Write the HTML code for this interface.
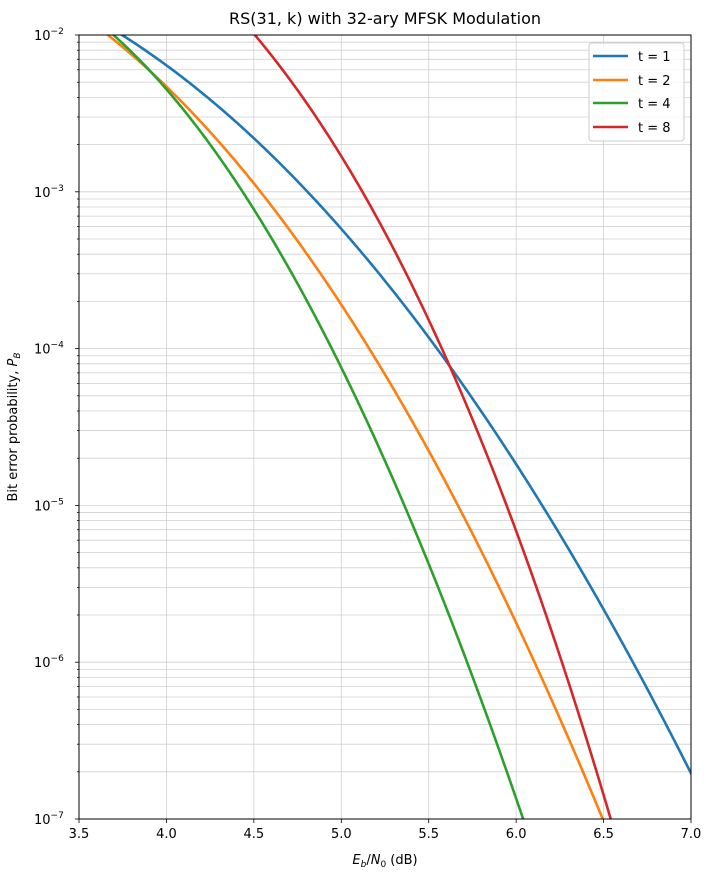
<!DOCTYPE html>
<html><head><style>body{margin:0;background:#fff}</style></head><body>
<svg width="706" height="873" xmlns="http://www.w3.org/2000/svg" font-family="'DejaVu Sans', sans-serif">
<rect width="706" height="873" fill="#fff"/>
<g id="grid" stroke="#d0d0d0" stroke-width="0.8"></g>
<g id="ticks" stroke="#000" stroke-width="0.8"></g>
<g id="lbl" font-size="13" fill="#000"></g>
<g fill="none" stroke-width="2.6" stroke-linejoin="round" stroke-linecap="butt" clip-path="url(#c)">
<clipPath id="c"><rect x="79" y="35" width="612" height="784"/></clipPath>
<path id="p1" stroke="#1f77b4"/>
<path id="p2" stroke="#ff7f0e"/>
<path id="p4" stroke="#2ca02c"/>
<path id="p8" stroke="#d62728"/>
</g>
<rect x="79" y="35" width="612" height="784" fill="none" stroke="#000" stroke-width="1"/>
<text x="385" y="24" font-size="16" text-anchor="middle">RS(31, k) with 32-ary MFSK Modulation</text>
<text x="385" y="864" font-size="13" text-anchor="middle"><tspan font-style="italic">E</tspan><tspan font-style="italic" font-size="9" dy="3">b</tspan><tspan dy="-3">/</tspan><tspan font-style="italic">N</tspan><tspan font-size="9" dy="3">0</tspan><tspan dy="-3"> (dB)</tspan></text>
<text transform="translate(17,427) rotate(-90)" font-size="13" text-anchor="middle">Bit error probability, <tspan font-style="italic">P</tspan><tspan font-style="italic" font-size="9" dy="3">B</tspan></text>
<rect x="589" y="43" width="95" height="98" rx="3" fill="#fff" fill-opacity="0.85" stroke="#ccc"/>
<g stroke-width="2.6"><line x1="593" y1="56" x2="628" y2="56" stroke="#1f77b4"/><line x1="593" y1="80" x2="628" y2="80" stroke="#ff7f0e"/><line x1="593" y1="103" x2="628" y2="103" stroke="#2ca02c"/><line x1="593" y1="127" x2="628" y2="127" stroke="#d62728"/></g>
<g font-size="13"><text x="638" y="61">t = 1</text><text x="638" y="85">t = 2</text><text x="638" y="108">t = 4</text><text x="638" y="132">t = 8</text></g>
</svg>
<script>
const ns="http://www.w3.org/2000/svg";
function el(p,t,a,txt){const e=document.createElementNS(ns,t);for(const k in a)e.setAttribute(k,a[k]);if(txt!==undefined)e.innerHTML=txt;document.getElementById(p).appendChild(e);}
const X=v=>79+(v-3.5)*174.857, Y=d=>35+d*156.8;
for(let i=0;i<=7;i++){const v=3.5+0.5*i,x=X(v);el('grid','line',{x1:x,x2:x,y1:35,y2:819});el('ticks','line',{x1:x,x2:x,y1:819,y2:823});el('lbl','text',{x:x,y:838,'text-anchor':'middle'},v.toFixed(1));}
for(let d=0;d<=5;d++){const y=Y(d);el('grid','line',{x1:79,x2:691,y1:y,y2:y});el('ticks','line',{x1:75,x2:79,y1:y,y2:y});
el('lbl','text',{x:34,y:y+5},'');
const t=document.getElementById('lbl').lastChild;t.innerHTML='10<tspan font-size="9" dy="-6">−'+(d+2)+'</tspan>';
if(d<5)for(let m=2;m<=9;m++){const yy=Y(d+1)-Math.log10(m)*156.8;el('grid','line',{x1:79,x2:691,y1:yy,y2:yy});el('ticks','line',{x1:77,x2:79,y1:yy,y2:yy});}}
function fit(pts,deg){const n=deg+1,A=[],b=[];for(let i=0;i<n;i++){A.push(new Array(n).fill(0));b.push(0);}
for(const [x0,y] of pts){const x=(x0-400)/300;for(let i=0;i<n;i++){b[i]+=y*x**i;for(let j=0;j<n;j++)A[i][j]+=x**(i+j);}}
for(let i=0;i<n;i++){let p=i;for(let r=i+1;r<n;r++)if(Math.abs(A[r][i])>Math.abs(A[p][i]))p=r;[A[i],A[p]]=[A[p],A[i]];[b[i],b[p]]=[b[p],b[i]];
for(let r=0;r<n;r++)if(r!==i){const f=A[r][i]/A[i][i];for(let c=i;c<n;c++)A[r][c]-=f*A[i][c];b[r]-=f*b[i];}}
const c=b.map((v,i)=>v/A[i][i]);return x0=>{const x=(x0-400)/300;let s=0;for(let i=0;i<n;i++)s+=c[i]*x**i;return s;};}
const S={p1:[[122,35],[166,65],[254,138],[360,252],[450,365],[560,535],[598,600],[691,773]],
p2:[[108,35],[166,87],[254,182],[332,290],[429,455],[510,610],[540,670],[602,819]],
p4:[[113,35],[147,68],[166,88],[254,207],[299,290],[330,345],[429,563],[447,610],[523,819]],
p8:[[255,35],[360,188],[409,280],[450,365],[544,610],[604,797],[611,819]]};
for(const k in S){const pts=S[k],f=fit(pts,3),x0=pts[0][0]-15,x1=pts[pts.length-1][0]+15;let d='';
for(let x=x0;x<=x1;x+=2)d+=(d?'L':'M')+x.toFixed(1)+','+f(x).toFixed(2);document.getElementById(k).setAttribute('d',d);}
</script>
</body></html>
